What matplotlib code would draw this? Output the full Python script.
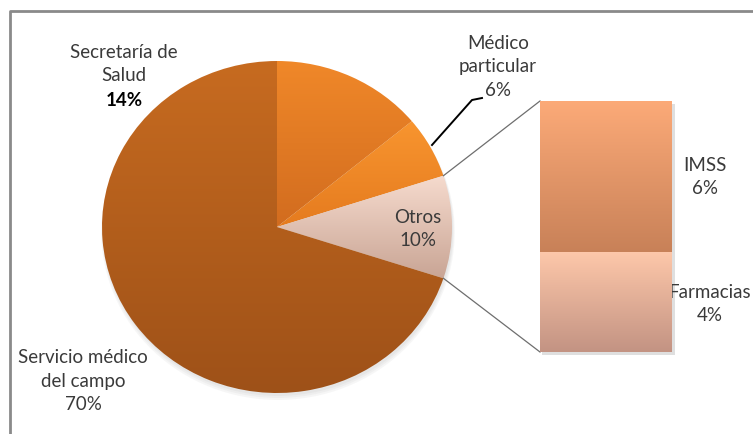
import numpy as np
import matplotlib
matplotlib.use("Agg")
import matplotlib.pyplot as plt
from matplotlib.colors import to_rgb
from matplotlib.patches import Ellipse, Rectangle

plt.rcParams['font.family'] = ['Lato', 'DejaVu Sans']

## pie data
labels = ["Secretaría de\nSalud", "Médico\nparticular", "Otros", "Servicio médico\ndel campo"]
values = [14, 6, 10, 70]
## breakdown of "Otros"
sub_labels = ["IMSS", "Farmacias"]
sub_values = [6, 4]

pie_grad = [("#F08829", "#D26C1F"),
            ("#F8952F", "#E57B1F"),
            ("#F6DBCE", "#C9A595"),
            ("#C76B20", "#9E5118")]
bar_grad = [("#FCAA78", "#C88158"),
            ("#FEC8AA", "#C39383")]

W, H = 753, 434
CX, CY, RX, RY = 277, 227, 175, 166
FS = 13.5


## pixel -> data coords of the main axes (pie radius = 1)
def px(x, y):
    return ((x - CX) / RX, (CY - y) / RY)


def gradient_fill(ax, patch, top, bottom, bbox):
    c1 = np.array(to_rgb(top))
    c2 = np.array(to_rgb(bottom))
    t = np.linspace(0, 1, 256)[:, None, None]
    img = c1 * (1 - t) + c2 * t
    x0, y0, x1, y1 = bbox
    im = ax.imshow(img, extent=[x0, x1, y0, y1], origin='upper',
                   aspect='auto', zorder=patch.get_zorder(), interpolation='bilinear')
    im.set_clip_path(patch)


fig = plt.figure(figsize=(W / 100, H / 100), dpi=100)
fig.patch.set_facecolor('white')
ax = fig.add_axes([0, 0, 1, 1])

## soft shadow under the pie
for i, a in enumerate([0.05, 0.05, 0.05]):
    sh = Ellipse(px(CX + 1, CY + 3 + i), 2.0 + 0.01 * i, 2.0 + 0.012 * i,
                 facecolor='#606060', edgecolor='none', alpha=a, zorder=0)
    ax.add_patch(sh)

wedges, _ = ax.pie(values, startangle=90, counterclock=False, radius=1, center=(0, 0))
for w, (c1, c2) in zip(wedges, pie_grad):
    w.set_zorder(2)
    w.set_facecolor('none')
    w.set_edgecolor('none')
    ext = w.get_path().get_extents()
    gradient_fill(ax, w, c1, c2, (ext.x0, ext.y0, ext.x1, ext.y1))

ax.set_xlim(px(0, 0)[0], px(W, 0)[0])
ax.set_ylim(px(0, H)[1], px(0, 0)[1])
ax.set_aspect('auto')
ax.axis('off')

## connector lines pie -> bar
a = np.deg2rad(18)
p_top = (np.cos(a), np.sin(a))
p_bot = (np.cos(a), -np.sin(a))
for p, q in [(p_top, px(540, 101)), (p_bot, px(540, 352))]:
    ax.plot([p[0], q[0]], [p[1], q[1]], color='#6E6E6E', lw=0.9, zorder=3)

## leader for Médico particular
lx, ly = zip(*[px(432, 145), px(472, 100), px(482, 98)])
ax.plot(lx, ly, color='black', lw=1.4, zorder=3)

txt = dict(ha='center', va='center', fontsize=FS, color='#3A3A3A',
           linespacing=1.45, zorder=5)
ax.text(*px(124, 64), labels[0], **txt)
ax.text(*px(124, 101), f"{values[0]}%", ha='center', va='center', fontsize=FS,
        color='black', fontweight='bold', zorder=5)
ax.text(*px(498, 67), f"{labels[1]}\n{values[1]}%", **txt)
ax.text(*px(418, 229), f"{labels[2]}\n{values[2]}%", **txt)
ax.text(*px(83, 381), f"{labels[3]}\n{values[3]}%", **txt)
ax.text(*px(705, 177), f"{sub_labels[0]}\n{sub_values[0]}%", **txt)
ax.text(*px(710, 304), f"{sub_labels[1]}\n{sub_values[1]}%", **txt)

## frame (cropped on the right and bottom)
fx, fy = zip(*[px(10, H + 5), px(10, 11), px(W + 5, 11)])
ax.plot(fx, fy, color='#8A8A8A', lw=2.0, zorder=6, clip_on=False)

## stacked bar of "Otros"
bx0, bx1, by0, by1 = 540, 672, 101, 352
bax = fig.add_axes([bx0 / W, (H - by1) / H, (bx1 - bx0) / W, (by1 - by0) / H])
total = sum(sub_values)
bottoms = [sub_values[1], 0]
bars = []
for val, b in zip(sub_values, bottoms):
    bars.append(bax.bar(0, val, bottom=b, width=1.0, color='none', zorder=2)[0])
for r, (c1, c2) in zip(bars, bar_grad):
    x0, y0 = r.get_xy()
    gradient_fill(bax, r, c1, c2, (x0, y0, x0 + r.get_width(), y0 + r.get_height()))
bax.set_xlim(-0.5, 0.5)
bax.set_ylim(0, total)
bax.set_aspect('auto')
bax.axis('off')

## bar shadow in main axes
s0 = px(bx0 + 2, by1 + 3)
s1 = px(bx1 + 3, by0 + 3)
ax.add_patch(Rectangle(s0, s1[0] - s0[0], s1[1] - s0[1], facecolor='#808080',
                       edgecolor='none', alpha=0.25, zorder=1))

fig.savefig("out.png", dpi=100)
